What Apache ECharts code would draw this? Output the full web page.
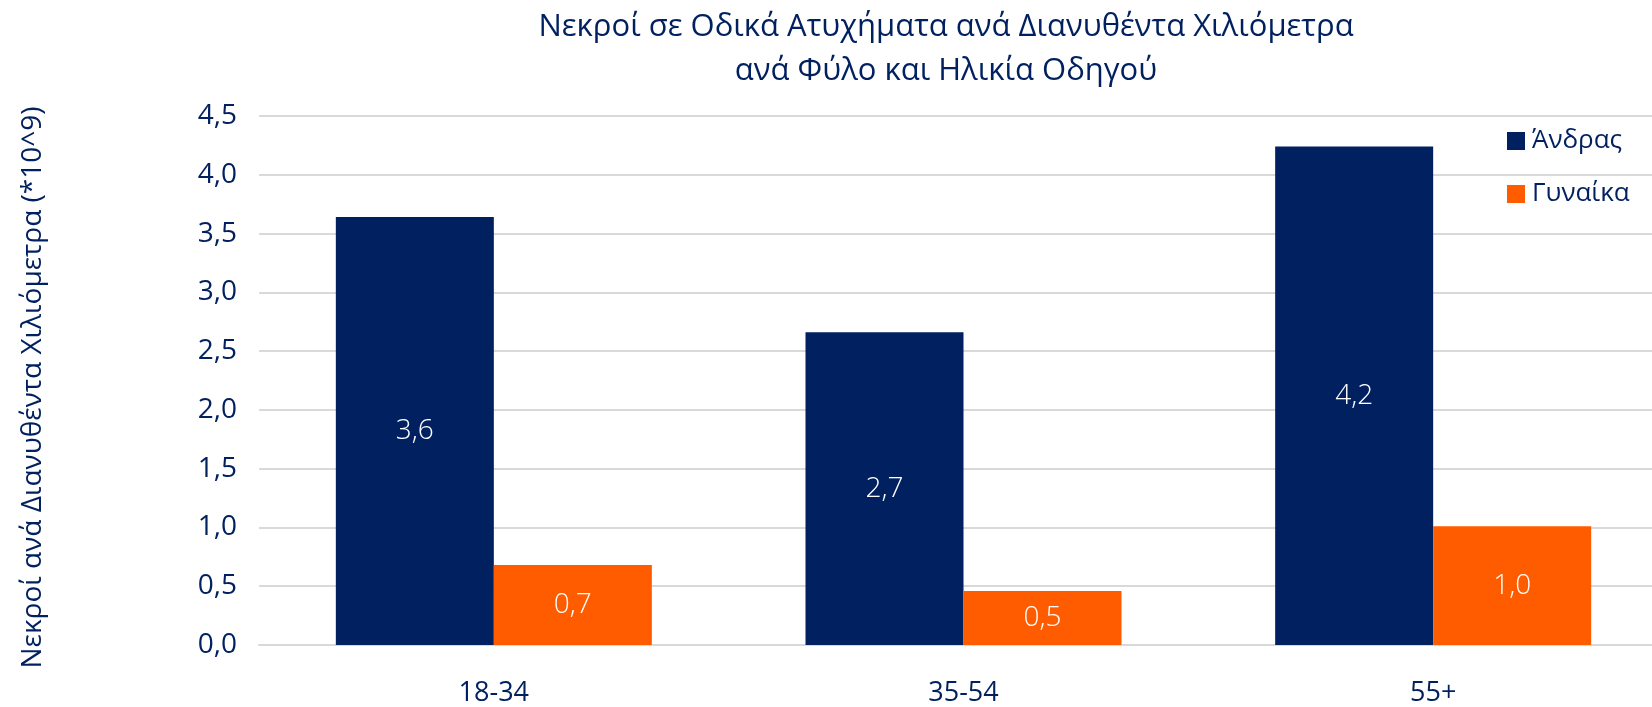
<!DOCTYPE html>
<html><head><meta charset="utf-8">
<script src="https://cdn.jsdelivr.net/npm/echarts@6/dist/echarts.min.js"></script>
<style>html,body{margin:0;padding:0;background:#fff;overflow:hidden;width:1652px;height:707px}#c{width:1690px;height:707px}</style>
</head><body><div id="c"></div>
<script>
const categories = ['18-34', '35-54', '55+'];
const men = [3.64, 2.66, 4.24];
const women = [0.68, 0.46, 1.01];
const seriesNames = ['Άνδρας', 'Γυναίκα'];
const titleLines = ['Νεκροί σε Οδικά Ατυχήματα ανά Διανυθέντα Χιλιόμετρα', 'ανά Φύλο και Ηλικία Οδηγού'];
const yAxisName = 'Νεκροί ανά Διανυθέντα Χιλιόμετρα (*10^9)';

const NAVY = '#00205F', ORANGE = '#FF5C00';
const FONT = '"Open Sans", "Noto Sans", sans-serif';
const fmt = v => v.toFixed(1).replace('.', ',');
const chart = echarts.init(document.getElementById('c'));
const lbl = {show: true, position: 'inside', color: '#fff', fontSize: 28, fontFamily: FONT, fontWeight: 300,
  formatter: p => fmt(p.value)};
chart.setOption({
  animation: false,
  title: {text: titleLines.join('\n'), left: 941, top: 0, textAlign: 'center',
    textStyle: {color: NAVY, fontSize: 31, fontWeight: 'normal', fontFamily: FONT, lineHeight: 44}},
  legend: {orient: 'vertical', left: 1502, top: 123, itemWidth: 18, itemHeight: 18, itemGap: 27,
    icon: 'rect', textStyle: {color: NAVY, fontSize: 26, fontFamily: FONT, padding: [0, 0, 0, 2]}, data: seriesNames},
  grid: {left: 259, top: 116, width: 1409, height: 529, containLabel: false},
  xAxis: {type: 'category', data: categories,
    axisLine: {show: true, lineStyle: {color: '#d9d9d9', width: 2}}, axisTick: {show: false},
    axisLabel: {color: NAVY, fontSize: 27, fontFamily: FONT, margin: 35}},
  yAxis: {type: 'value', min: 0, max: 4.5, interval: 0.5,
    name: yAxisName, nameLocation: 'middle', nameRotate: 90, nameGap: 212,
    nameTextStyle: {color: NAVY, fontSize: 28, fontFamily: FONT, padding: [0, 14, 0, 0]},
    axisLine: {show: false}, axisTick: {show: false},
    splitLine: {lineStyle: {color: '#d9d9d9', width: 2}},
    axisLabel: {color: NAVY, fontSize: 28, fontFamily: FONT, margin: 22, formatter: v => fmt(v)}},
  series: [
    {name: seriesNames[0], type: 'bar', data: men, barWidth: 158, barGap: '0%', itemStyle: {color: NAVY}, label: lbl},
    {name: seriesNames[1], type: 'bar', data: women, barWidth: 158, barGap: '0%', itemStyle: {color: ORANGE}, label: lbl}
  ]
});
</script></body></html>
